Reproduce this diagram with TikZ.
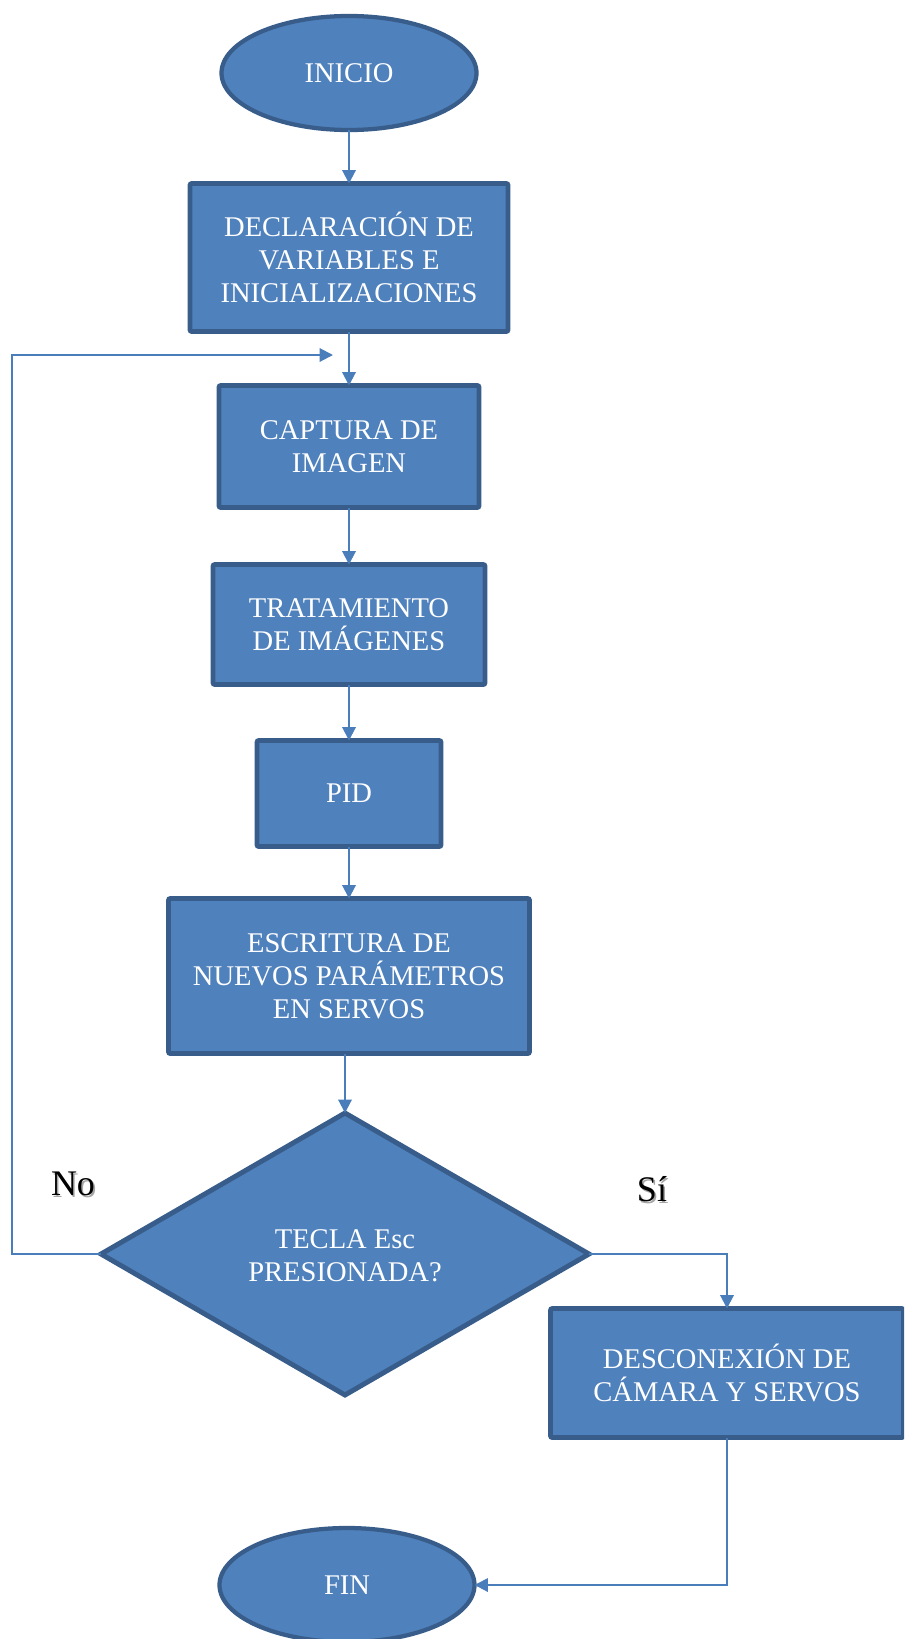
\documentclass[tikz,border=0pt]{standalone}
\usepackage{fontspec}
\setmainfont{Liberation Serif}
\usetikzlibrary{shapes.geometric,arrows.meta}

\definecolor{boxfill}{HTML}{4F81BD}
\definecolor{boxline}{HTML}{385D8A}
\definecolor{wire}{HTML}{4A7EBB}

% black label with a soft grey drop shadow
\newcommand{\shadowlabel}[1]{%
  \rlap{\raisebox{-1.2pt}{\hspace{1.2pt}\textcolor{black!35}{#1}}}#1}

\begin{document}
\begin{tikzpicture}[x=0.75pt,y=-0.75pt,
  every node/.style={inner sep=0pt,outer sep=0pt},
  basic/.style={draw=boxline,fill=boxfill,line width=3.7pt,text=white,
    align=center,font=\fontsize{21.4pt}{24.75pt}\selectfont},
  procbox/.style={basic,rectangle,rounded corners=1.5pt},
  terminal/.style={basic,ellipse,line width=3.2pt},
  decision/.style={basic,diamond},
  conn/.style={draw=wire,line width=1.5pt,
    -{Triangle[length=10pt,width=10pt]}},
  answer/.style={text=black,font=\fontsize{27pt}{30pt}\selectfont}]

\useasboundingbox (0,0) rectangle (904,1639);
\begin{scope}
\clip (0,0) rectangle (904,1639);

% terminals
\node[terminal,minimum width=255pt*0.75,minimum height=114pt*0.75]
  (start) at (349,73) {INICIO};
\node[terminal,minimum width=255pt*0.75,minimum height=114pt*0.75]
  (fin) at (347,1585) {FIN};

% process steps
\node[procbox,minimum width=318pt*0.75,minimum height=148pt*0.75]
  (decl) at (349,257.5) {DECLARACIÓN DE\\VARIABLES E\\INICIALIZACIONES};
\node[procbox,minimum width=260pt*0.75,minimum height=122pt*0.75]
  (capt) at (349,446.5) {CAPTURA DE\\IMAGEN};
\node[procbox,minimum width=272pt*0.75,minimum height=120pt*0.75]
  (trat) at (349,624.5) {TRATAMIENTO\\DE IMÁGENES};
\node[procbox,minimum width=184pt*0.75,minimum height=106pt*0.75]
  (pid) at (349,793.5) {PID};
\node[procbox,minimum width=361pt*0.75,minimum height=155pt*0.75]
  (escr) at (349,976) {ESCRITURA DE\\NUEVOS PARÁMETROS\\EN SERVOS};

% decision
\node[decision,minimum width=488pt*0.75,minimum height=282pt*0.75,
  aspect=1.7] (key) at (345,1254) {};
\node[text=white,align=center,font=\fontsize{21.4pt}{24.75pt}\selectfont]
  (keytxt) at (345,1256) {TECLA Esc\\PRESIONADA?};

% shutdown step
\node[procbox,minimum width=353pt*0.75,minimum height=129pt*0.75]
  (off) at (727,1373) {DESCONEXIÓN DE\\CÁMARA Y SERVOS};

% branch labels
\node[answer] (no) at (73,1185) {\shadowlabel{No}};
\node[answer] (si) at (652,1190) {\shadowlabel{Sí}};

% loop-back path anchors
\coordinate (leftx) at (12,0);
\coordinate (loopin) at (333,355);

% main flow
\draw[conn] (start) -- (decl);
\draw[conn] (decl) -- (capt);
\draw[conn] (capt) -- (trat);
\draw[conn] (trat) -- (pid);
\draw[conn] (pid) -- (escr);
\draw[conn] (escr.south -| key.north) -- (key.north);

% "No": back to image capture
\draw[conn] (key.west) -- (key.west -| leftx) |- (loopin);

% "Sí": shut down and finish
\draw[conn] (key.east) -| (off.north);
\draw[conn] (off.south) |- (fin.east);
\end{scope}
\end{tikzpicture}
\end{document}
